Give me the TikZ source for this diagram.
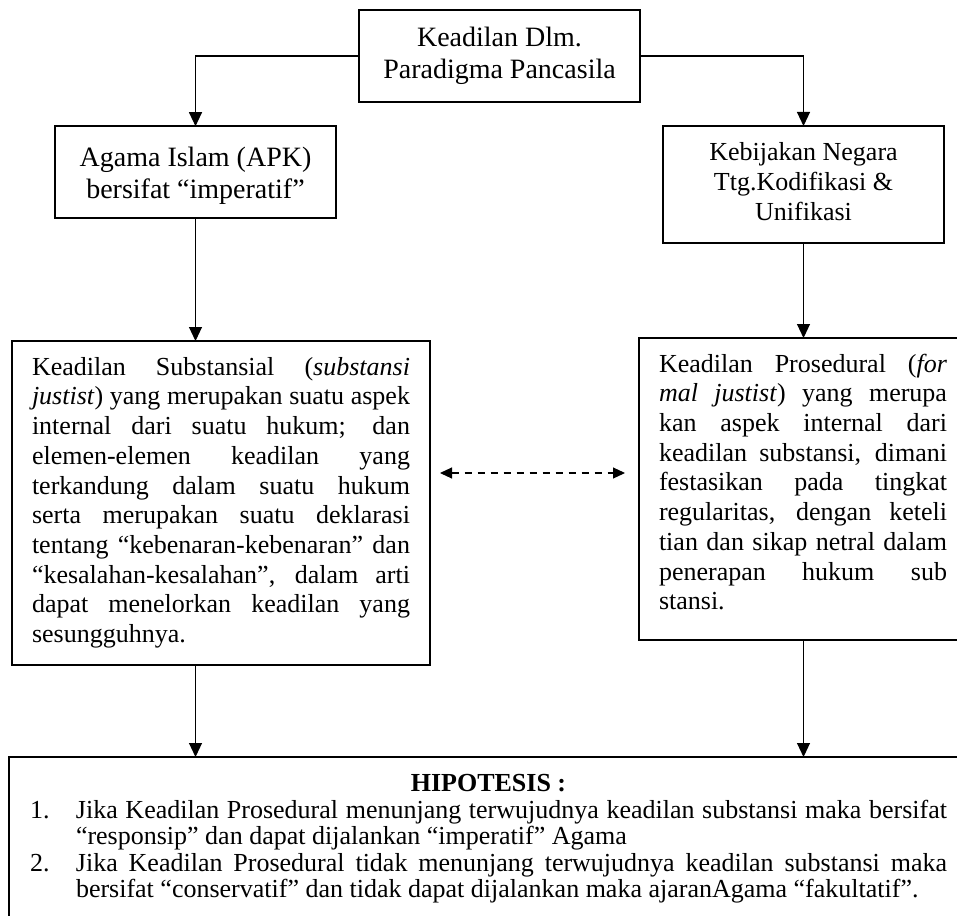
\documentclass[tikz,border=0pt]{standalone}
\usepackage{fontspec}
\setmainfont{Liberation Serif}
\usetikzlibrary{arrows.meta,positioning}

\tikzset{
  box/.style={draw, line width=1.8pt, outer sep=0pt, inner ysep=0pt},
  link/.style={line width=1.1pt, -{Triangle[length=14pt,width=13pt]}},
  dlink/.style={line width=1.1pt, dash pattern=on 7pt off 6pt,
    {Triangle[length=12pt,width=11pt]}-{Triangle[length=12pt,width=11pt]}},
  big/.style={font=\fontsize{28}{32}\selectfont, align=center},
  mid/.style={font=\fontsize{26}{30}\selectfont, align=center},
  body/.style={font=\fontsize{26}{29.7}\selectfont, align=justify, inner xsep=20pt},
}
% one fully justified line of a given width
\newcommand\jline[2]{\makebox[#1][s]{#2}}

\begin{document}
\begin{tikzpicture}[x=1pt,y=-1pt]
\useasboundingbox (0,0) rectangle (957,915);
\clip (0,0) rectangle (957,915);

% top level
\node[box, big, minimum width=281pt, minimum height=92pt] (root) at (499.5,56)
  {\strut Keadilan Dlm.\\ Paradigma Pancasila\strut};

% second level
\node[box, big, minimum width=281pt, minimum height=92pt] (agama) at (195.5,172.2)
  {\rule{0pt}{30.4pt}Agama Islam (APK)\\ bersifat “imperatif”\strut};
\node[box, mid, minimum width=281pt, minimum height=117pt] (negara) at (803.5,184.5)
  {\strut Kebijakan Negara\\ Ttg.Kodifikasi \&\\ Unifikasi\strut};

% third level
\node[box, body, text width=378pt, minimum height=324pt] (subst) at (221,503)
  {\jline{378pt}{\strut Keadilan Substansial (\textit{substansi}}\\
   \jline{378pt}{\textit{justist}) yang merupakan suatu aspek}\\
   \jline{378pt}{internal dari suatu hukum; dan}\\
   \jline{378pt}{elemen-elemen keadilan yang}\\
   \jline{378pt}{terkandung dalam suatu hukum}\\
   \jline{378pt}{serta merupakan suatu deklarasi}\\
   \jline{378pt}{tentang “kebenaran-kebenaran” dan}\\
   \jline{378pt}{“kesalahan-kesalahan”, dalam arti}\\
   \jline{378pt}{dapat menelorkan keadilan yang}\\
   sesungguhnya.\strut};

\node[box, body, text width=288pt, minimum height=302pt] (prosed) at (803,489)
  {\jline{288pt}{\strut Keadilan Prosedural (\textit{for}}\\
   \jline{288pt}{\textit{mal justist}) yang merupa}\\
   \jline{288pt}{kan aspek internal dari}\\
   \jline{288pt}{keadilan substansi, dimani}\\
   \jline{288pt}{festasikan pada tingkat}\\
   \jline{288pt}{regularitas, dengan keteli}\\
   \jline{288pt}{tian dan sikap netral dalam}\\
   \jline{288pt}{penerapan hukum sub}\\
   stansi.\rule[-16.9pt]{0pt}{1pt}};

% conclusion
\node[box, font=\fontsize{26}{26.5}\selectfont, align=justify, text width=917pt,
      inner xsep=21pt, inner ysep=16pt, anchor=north west] (hipo) at (9,757)
  {\makebox[917pt]{\strut\textbf{HIPOTESIS :}}\\
   \makebox[46pt][l]{1.}\jline{871pt}{Jika Keadilan Prosedural menunjang terwujudnya keadilan substansi maka bersifat}\\
   \hspace*{46pt}“responsip” dan dapat dijalankan “imperatif” Agama\\
   \makebox[46pt][l]{2.}\jline{871pt}{Jika Keadilan Prosedural tidak menunjang terwujudnya keadilan substansi maka}\\
   \hspace*{46pt}bersifat “conservatif” dan tidak dapat dijalankan maka ajaranAgama “fakultatif”.\strut};

% connectors
\draw[link] (root.west) -| (agama.north);
\draw[link] (root.east) -| (negara.north);
\draw[link] (agama.south) -- (agama.south |- subst.north);
\draw[link] (negara.south) -- (negara.south |- prosed.north);
\draw[link] (agama.south |- subst.south) -- (agama.south |- hipo.north);
\draw[link] (negara.south |- prosed.south) -- (negara.south |- hipo.north);

\coordinate (da) at (440,473);
\coordinate (db) at (625,473);
\draw[dlink] (da) -- (db);
\end{tikzpicture}
\end{document}
